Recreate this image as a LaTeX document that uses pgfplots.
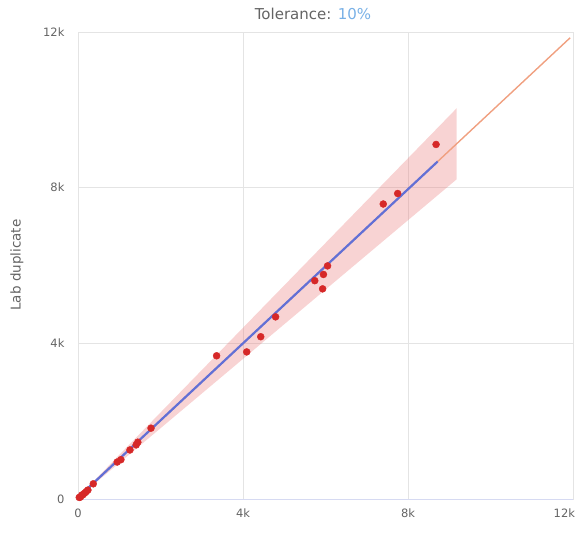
\documentclass[border=0pt]{standalone}
\usepackage{pgfplots}
\pgfplotsset{compat=1.18}
\usepackage{fontspec}
\setmainfont{DejaVu Sans}
\definecolor{ptred}{RGB}{214,40,40}
\definecolor{fitblue}{RGB}{98,112,214}
\definecolor{oneone}{RGB}{240,160,128}
\definecolor{bandpink}{RGB}{232,110,110}
\definecolor{gridgray}{RGB}{228,228,228}
\definecolor{axlav}{RGB}{214,218,242}
\definecolor{labgray}{RGB}{100,100,100}
\definecolor{tolblue}{RGB}{120,176,230}
\begin{document}
\begin{tikzpicture}
\useasboundingbox (0,0) rectangle (578pt,533pt);
\begin{axis}[
  at={(78pt,34pt)}, anchor=south west,
  scale only axis, width=495pt, height=467pt,
  xmin=0, xmax=12000, ymin=0, ymax=12000,
  xtick={0,4000,8000,12000},
  xticklabels={0,4k,8k,\hbox to 0pt{\hss 12k\kern-2pt}},
  ytick={0,4000,8000,12000}, yticklabels={0,4k,8k,12k},
  scaled ticks=false,
  major tick length=0pt,
  grid=major,
  grid style={gridgray, line width=0.9pt},
  axis line style={gridgray, line width=0.9pt},
  tick label style={font=\fontsize{11.5}{13}\selectfont, text=labgray},
  xticklabel style={yshift=-6pt},
  yticklabel style={xshift=-10pt},
  clip=false,
]
% tolerance band: fitted line +/- 10%
\addplot[draw=none, fill=bandpink, fill opacity=0.3]
  coordinates {(0,36) (9180,8215) (9180,10041) (0,44)} \closedcycle;
% fitted line, extended
\addplot[oneone, line width=1.4pt] coordinates {(0,40) (11930,11851)};
\addplot[fitblue, line width=2.2pt] coordinates {(0,40) (8720,8673)};
% bottom axis line
\addplot[axlav, line width=1pt] coordinates {(0,0) (12000,0)};
% original vs duplicate
\addplot[only marks, mark=*, mark size=3.5pt, ptred, mark options={draw=ptred, fill=ptred}]
  coordinates {
  (30,40) (60,50) (90,100) (120,110) (160,150) (200,190) (240,230)
  (370,390) (950,950) (1040,1010) (1260,1260) (1410,1390) (1450,1460)
  (1770,1820) (3360,3680) (4090,3780) (4430,4170) (4790,4680)
  (5740,5610) (5930,5400) (5950,5770) (6050,5990)
  (7400,7580) (7750,7850) (8680,9110)
  };
\end{axis}
\node[font=\fontsize{15}{18}\selectfont, text=labgray] at (313pt,519pt)
  {Tolerance: \textcolor{tolblue}{10\%}};
\node[font=\fontsize{13.5}{16}\selectfont, text=labgray, rotate=90] at (17pt,268pt)
  {Lab duplicate};
\end{tikzpicture}
\end{document}
